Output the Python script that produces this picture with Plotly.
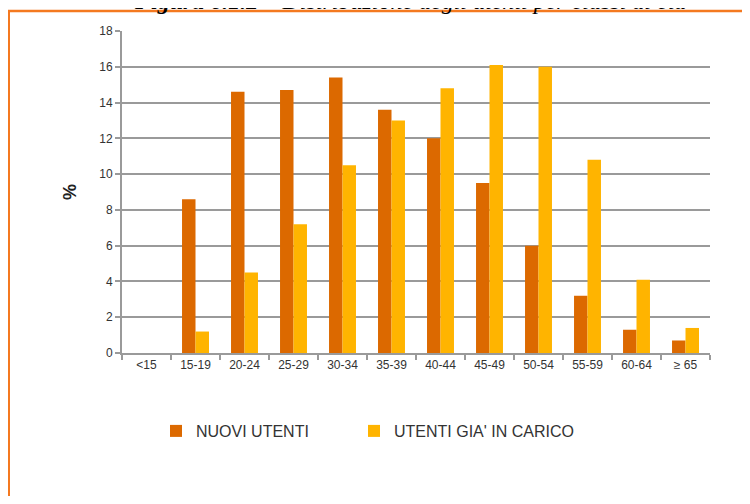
import plotly.graph_objects as go

categories = ["<15", "15-19", "20-24", "25-29", "30-34", "35-39", "40-44",
              "45-49", "50-54", "55-59", "60-64", "≥ 65"]
nuovi_utenti = [0, 8.6, 14.6, 14.7, 15.4, 13.6, 12.0, 9.5, 6.0, 3.2, 1.3, 0.7]
utenti_gia_in_carico = [0, 1.2, 4.5, 7.2, 10.5, 13.0, 14.8, 16.1, 16.0, 10.8, 4.1, 1.4]
y_ticks = [0, 2, 4, 6, 8, 10, 12, 14, 16, 18]

ORANGE = "#DC6900"
YELLOW = "#FFB400"
FRAME = "#F47920"
GRID = "#9a9a9a"

fig = go.Figure()
fig.add_trace(go.Bar(name="NUOVI UTENTI", x=categories, y=nuovi_utenti,
                     marker=dict(color=ORANGE, line=dict(width=0)), legend="legend"))
fig.add_trace(go.Bar(name="UTENTI GIA' IN CARICO", x=categories, y=utenti_gia_in_carico,
                     marker=dict(color=YELLOW, line=dict(width=0)), legend="legend2"))

# page has an 8px body margin on every side; figure is sized/positioned to compensate
OFF = 8
W, H = 750 - 2 * OFF, 504 - 2 * OFF
L, T = 122 - OFF, 31 - OFF
PR, PB = 710 - OFF, 353 - OFF
R, B = W - PR, H - PB
pw, ph = PR - L, PB - T

def px_x(p):  # page pixel -> paper x
    return (p - OFF - L) / pw

def px_y(p):  # page pixel -> paper y
    return (PB - (p - OFF)) / ph

leg_common = dict(orientation="h", xanchor="left", yanchor="top", y=px_y(414),
                  font=dict(size=16, color="#333"), itemwidth=30, bgcolor="rgba(0,0,0,0)")

fig.update_layout(
    width=W, height=H,
    margin=dict(l=L, r=R, t=T, b=B),
    paper_bgcolor="white", plot_bgcolor="white",
    barmode="group", bargap=0.45, bargroupgap=0,
    font=dict(family="Liberation Sans, Arial, sans-serif", size=12, color="#222"),
    showlegend=True,
    legend=dict(x=px_x(156), **leg_common),
    legend2=dict(x=px_x(354), **leg_common),
    xaxis=dict(type="category", showgrid=False, showline=True, linecolor=GRID, linewidth=2,
               ticks="outside", tickson="boundaries", ticklen=5, tickcolor=GRID, tickwidth=1.5,
               tickfont=dict(size=12, color="#333")),
    yaxis=dict(range=[0, 18], tickvals=y_ticks, showgrid=True, gridcolor=GRID, gridwidth=1.5,
               showline=True, linecolor=GRID, linewidth=2, zeroline=False,
               ticks="outside", ticklen=5, tickcolor=GRID, tickwidth=1.5,
               tickfont=dict(size=12, color="#333"),
               title=dict(text="<b>%</b>", font=dict(size=18, color="#222"), standoff=18)),
    shapes=[
        dict(type="line", xref="paper", yref="paper", x0=px_x(9), x1=px_x(9),
             y0=px_y(10), y1=px_y(503), line=dict(color=FRAME, width=2)),
        dict(type="line", xref="paper", yref="paper", x0=px_x(8), x1=px_x(749),
             y0=px_y(11), y1=px_y(11), line=dict(color=FRAME, width=2.5)),
    ],
    annotations=[
        dict(text="<b><i>Figura 6.1.2</i></b><i> – Distribuzione degli utenti per classi di età</i>",
             xref="paper", yref="paper", x=px_x(410), y=px_y(16), xanchor="center", yanchor="bottom",
             showarrow=False, font=dict(family="Liberation Serif, Times New Roman, serif", size=24, color="#000")),
    ],
)

fig.write_html("out.html")
